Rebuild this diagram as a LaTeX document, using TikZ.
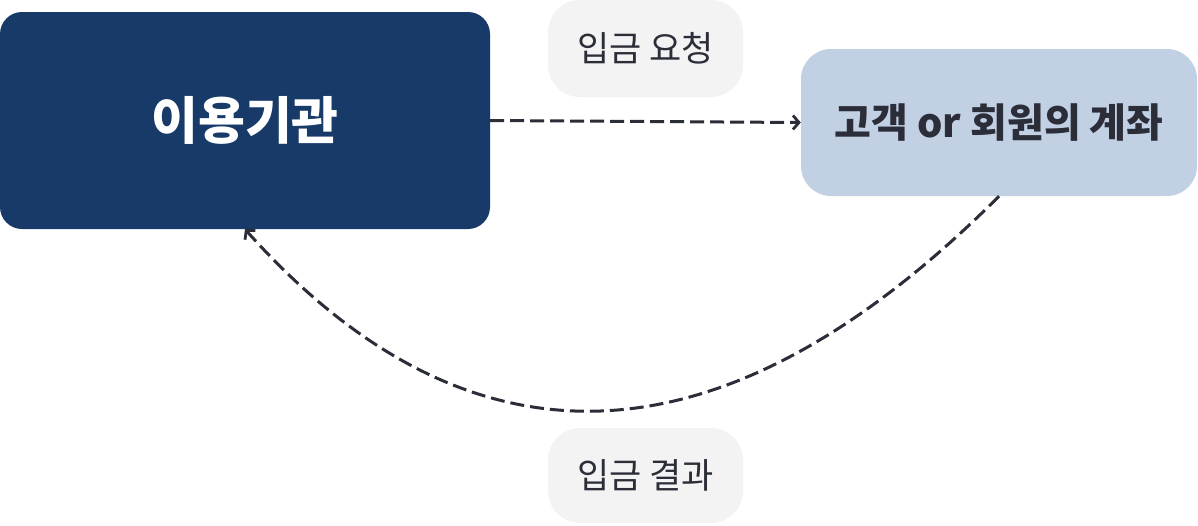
\documentclass[tikz,border=0pt]{standalone}
\usepackage{fontspec}
\setmainfont{Noto Sans CJK KR}
\usetikzlibrary{arrows.meta}
\definecolor{agency}{HTML}{173A69}
\definecolor{account}{HTML}{C1D0E3}
\definecolor{tagbg}{HTML}{F3F3F3}
\definecolor{ink}{HTML}{2B2D38}

\begin{document}
\begin{tikzpicture}[
		x=1pt, y=-1pt,
		box/.style={rectangle, inner sep=0pt},
		tag/.style={box, fill=tagbg, rounded corners=32pt, minimum width=195pt,
			text=ink, font=\fontsize{35}{40}\selectfont},
		flow/.style={draw=ink, line width=3pt, dash pattern=on 14pt off 6pt,
			-{Straight Barb[length=6pt, width=14pt, line width=2.8pt]}}
	]
	\useasboundingbox (0,0) rectangle (1198,525);
	\node[box, fill=agency, rounded corners=22pt, minimum width=490pt, minimum height=217pt,
		text=white, font=\fontsize{51}{58}\selectfont\bfseries] (org) at (245,120.5) {이용기관};
	\node[box, fill=account, rounded corners=30pt, minimum width=396pt, minimum height=147pt,
		text=ink, font=\fontsize{40}{46}\selectfont\bfseries] (acct) at (999,122.5) {고객 or 회원의 계좌};
	\node[tag, minimum height=97pt] (req) at (645.5,48.5) {입금 요청};
	\node[tag, minimum height=95pt] (res) at (645.5,475.5) {입금 결과};

	\draw[flow] (org.east) -- (acct.west);
	\draw[flow] (acct.south) .. controls +(-280,280) and +(222,248) .. (org.south);
\end{tikzpicture}
\end{document}
